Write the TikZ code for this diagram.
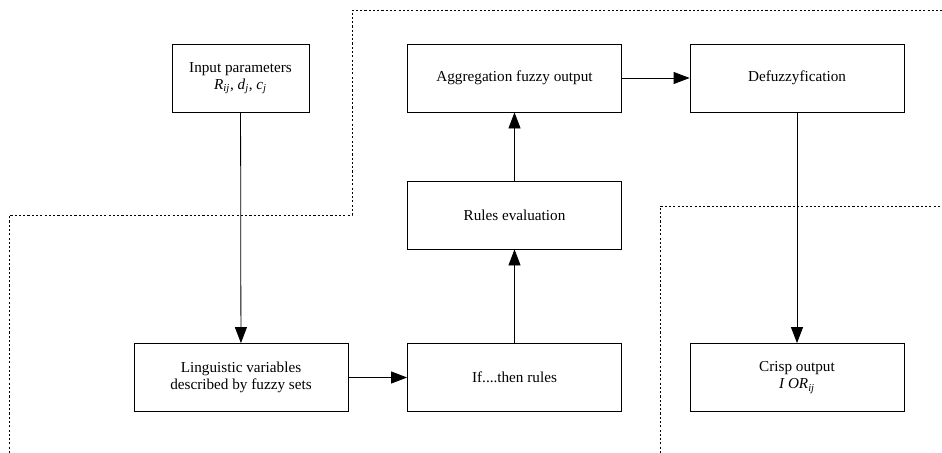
\documentclass[tikz,border=0pt]{standalone}
\usepackage{fontspec}
\setmainfont{Liberation Serif}
\usepackage{tikz}
\usetikzlibrary{arrows.meta,positioning}

\begin{document}
\begin{tikzpicture}[
        x=0.75pt, y=-0.75pt,
        block/.style={draw=black, line width=0.6pt, rectangle, minimum width=160.5pt, minimum height=51pt, align=center, inner sep=2pt, font=\fontsize{11.4}{12.8}\selectfont},
        smallblock/.style={block, minimum width=102.75pt},
        arr/.style={line width=0.6pt, -{Triangle[length=12pt, width=9pt]}, color=black},
        border/.style={line width=0.6pt, dash pattern=on 1.6pt off 1.6pt}
    ]
        \useasboundingbox (0,0) rectangle (942,453);

        % Nodes
        \node[smallblock] (input) at (240.5, 78) {Input parameters\\\textit{R}\textsubscript{\textit{ij}}, \textit{d}\textsubscript{\textit{j}}, \textit{c}\textsubscript{\textit{j}}};
        \node[block] (aggr) at (514.5, 78) {Aggregation fuzzy output};
        \node[block] (defuzz) at (797, 78) {Defuzzyfication};
        \node[block] (rules) at (514.5, 215) {Rules evaluation};
        \node[block] (ling) at (241, 377.5) {Linguistic variables\\described by fuzzy sets};
        \node[block] (ifthen) at (514.5, 377.5) {If....then rules};
        \node[block] (crisp) at (797, 377.5) {Crisp output\\\textit{I OR}\textsubscript{\textit{ij}}};

        % Borders
        \coordinate (b1) at (9.5, 453);
        \coordinate (b2) at (9.5, 215);
        \coordinate (b3) at (352, 215);
        \coordinate (b4) at (352, 10);
        \coordinate (b5) at (942, 10);
        \draw[border] (b1) -- (b2) -- (b3) -- (b4) -- (b5);
        \coordinate (c1) at (660, 453);
        \coordinate (c2) at (660, 206);
        \coordinate (c3) at (942, 206);
        \draw[border] (c1) -- (c2) -- (c3);

        % Connectors
        \draw[arr] (input) -- (ling);
        \draw[arr] (ling) -- (ifthen);
        \draw[arr] (ifthen) -- (rules);
        \draw[arr] (rules) -- (aggr);
        \draw[arr] (aggr) -- (defuzz);
        \draw[arr] (defuzz) -- (crisp);
    \end{tikzpicture}
\end{document}
